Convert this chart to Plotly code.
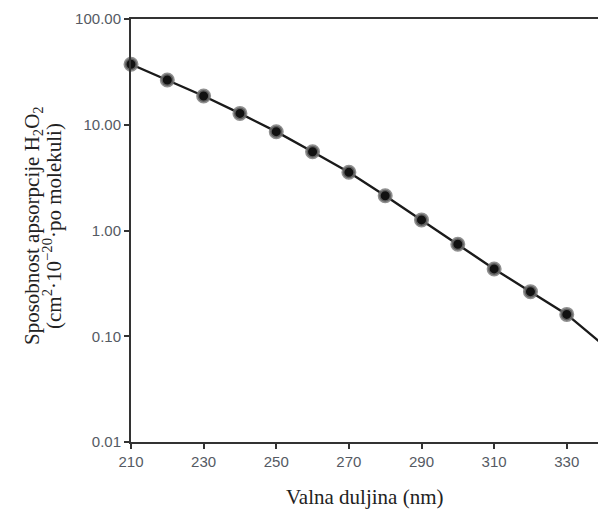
import plotly.graph_objects as go

wavelength = [210, 220, 230, 240, 250, 260, 270, 280, 290, 300, 310, 320, 330, 340]
absorption = [37.3, 26.5, 18.7, 12.8, 8.6, 5.56, 3.55, 2.13, 1.26, 0.741, 0.433, 0.264, 0.161, 0.083]

x_ticks = [210, 230, 250, 270, 290, 310, 330]
y_ticks = [0.01, 0.1, 1, 10, 100]
y_tick_labels = ["0.01", "0.10", "1.00", "10.00", "100.00"]

fig = go.Figure()
fig.add_trace(go.Scatter(
    x=wavelength, y=absorption, mode="lines+markers",
    line=dict(color="#1a1a1a", width=2.4),
    marker=dict(size=12, color="#111111", line=dict(color="rgba(115,115,115,0.8)", width=3)),
    cliponaxis=False, showlegend=False,
))

tick_font = dict(family="Liberation Sans, Arial, sans-serif", size=15, color="#555a63")

fig.update_layout(
    width=598, height=511,
    margin=dict(l=131, r=0, t=19, b=69),
    paper_bgcolor="white", plot_bgcolor="white",
    xaxis=dict(
        range=[210, 338.6], tickvals=x_ticks, ticks="outside", ticklen=5, tickwidth=1.5,
        tickcolor="#333", showline=True, linecolor="#333", linewidth=2, mirror=True,
        showgrid=False, zeroline=False, tickfont=tick_font,
    ),
    yaxis=dict(
        type="log", range=[-2, 2], tickvals=y_ticks, ticktext=y_tick_labels,
        ticks="outside", ticklen=5, tickwidth=1.5, tickcolor="#333",
        showline=True, linecolor="#333", linewidth=2, showgrid=False, zeroline=False,
        tickfont=tick_font,
    ),
)

serif = dict(family="Liberation Serif, Times New Roman, serif", size=21, color="#222")
fig.add_annotation(
    text="Sposobnost apsorpcije H<sub>2</sub>O<sub>2</sub>",
    xref="paper", yref="paper", x=(33 - 131) / 467, y=(442 - 226) / 423,
    textangle=-90, showarrow=False, font=serif, xanchor="center", yanchor="middle",
)
fig.add_annotation(
    text="(cm<sup>2</sup>·10<sup>−20</sup>·po molekuli)",
    xref="paper", yref="paper", x=(52 - 131) / 467, y=(442 - 226) / 423,
    textangle=-90, showarrow=False, font=serif, xanchor="center", yanchor="middle",
)
fig.add_annotation(
    text="Valna duljina (nm)",
    xref="paper", yref="paper", x=0.5, y=-(497 - 442) / 423,
    showarrow=False, font=serif, xanchor="center", yanchor="middle",
)

fig.write_html("out.html")
